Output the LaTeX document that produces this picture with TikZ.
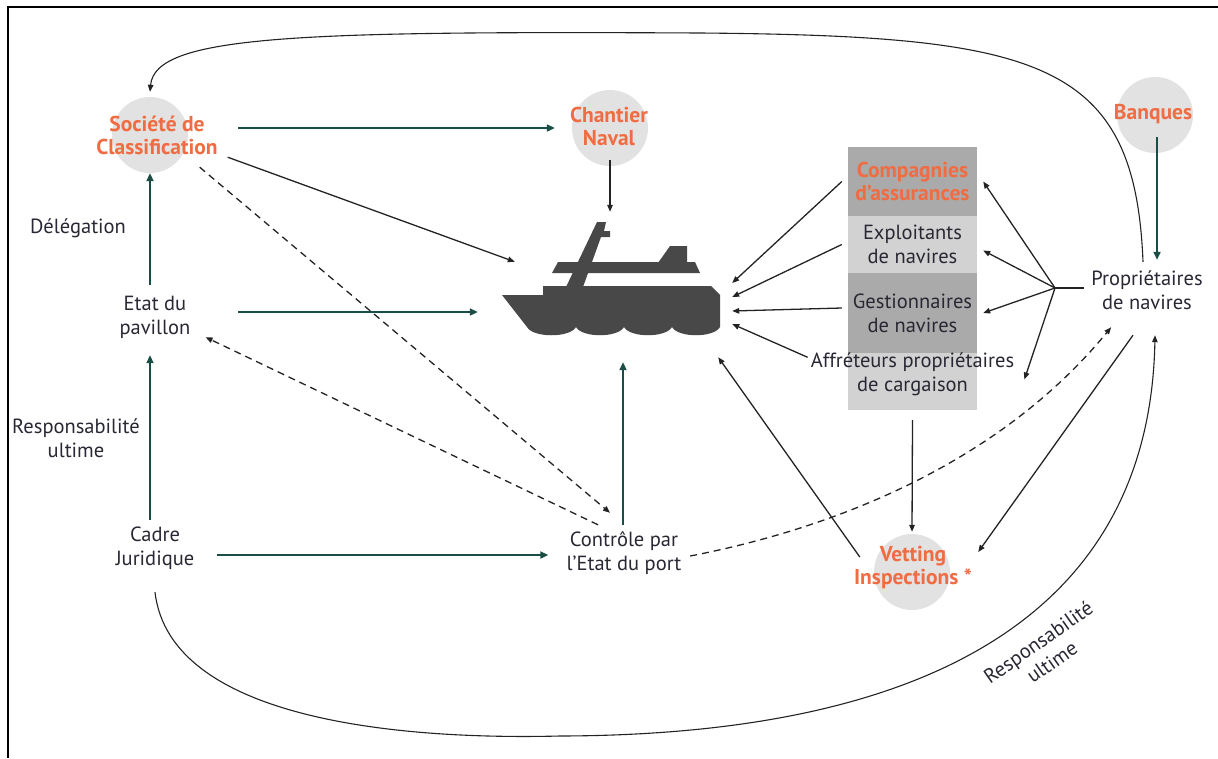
\documentclass[tikz,border=0pt]{standalone}
\usepackage{fontspec}
\setmainfont{PT Sans}
\usetikzlibrary{arrows.meta}

\definecolor{txtgray}{RGB}{40,40,52}
\definecolor{orangeT}{RGB}{240,108,66}
\definecolor{bubblegray}{RGB}{226,226,226}
\definecolor{tealC}{RGB}{24,78,70}
\definecolor{linegray}{RGB}{35,35,35}
\definecolor{boxdarkC}{RGB}{170,170,170}
\definecolor{boxlightC}{RGB}{210,210,210}
\definecolor{shipC}{RGB}{72,72,72}

\tikzset{
	bubble/.style={circle, fill=bubblegray, minimum size=76pt, inner sep=0pt},
	orangetxt/.style={text=orangeT, font=\fontsize{21.5}{23}\selectfont\bfseries, align=center, inner sep=0pt},
	plaintxt/.style={text=txtgray, font=\fontsize{20.5}{24}\selectfont, align=center, inner sep=0pt, minimum height=48pt},
	boxdark/.style={fill=boxdarkC, minimum width=129pt, inner sep=0pt},
	boxlight/.style={fill=boxlightC, minimum width=129pt, inner sep=0pt},
	tealarrow/.style={draw=tealC, line width=2.6pt, -{Triangle[length=8pt,width=7pt]}},
	thinarrow/.style={draw=linegray, line width=1.3pt, -{Triangle[length=7pt,width=5.5pt]}},
	dasharrow/.style={thinarrow, dash pattern=on 7pt off 5pt},
}

\begin{document}
\begin{tikzpicture}[x=1pt, y=-1pt]
	\useasboundingbox (0,0) rectangle (1218,758);
	\draw[line width=2pt] (8,758) -- (8,6.5) -- (1218,6.5);

	% the ship
	\node[minimum width=254pt, minimum height=150pt, inner sep=0pt] (ship) at (605,290) {};
	\fill[shipC] (502,295) -- (543,295) -- (543,286) -- (711,286) -- (720,295) -- (720,327)
		.. controls (714,338) and (678,338) .. (672,327)
		.. controls (666,338) and (630,338) .. (624,327)
		.. controls (618,338) and (582,338) .. (576,327)
		.. controls (570,338) and (533,338) .. (527,327) -- cycle;
	\fill[shipC] (552,273) -- (558,262) -- (695,262) -- (700,273) -- cycle;
	\fill[shipC] (658,263) -- (670,246) -- (687,246) -- (687,263) -- cycle;
	\fill[shipC] (597,222) -- (606,222) -- (604,231) -- (610,231) -- (610,237) -- (601,237) -- (583,287) -- (566,287) -- cycle;

	% actors
	\node[bubble] (socc) at (150,135) {};
	\node[orangetxt, minimum width=125pt, minimum height=48pt] (soc) at (157,135) {Société de\\Classification};
	\node[bubble] (chac) at (610,128) {};
	\node[orangetxt] (cha) at (609,126) {Chantier\\Naval};
	\node[bubble] (banc) at (1155,115) {};
	\node[orangetxt] (ban) at (1153,114) {Banques};
	\node[bubble] (vetc) at (912,572) {};
	\node[orangetxt] (vet) at (913,567) {Vetting\\Inspections *};

	\node[plaintxt] (deleg) at (78,228) {Délégation};
	\node[plaintxt, minimum width=70pt] (etat) at (155,317) {Etat du\\pavillon};
	\node[plaintxt] (resp) at (76,438) {Responsabilité\\ultime};
	\node[plaintxt, minimum width=70pt] (cadre) at (155,548) {Cadre\\Juridique};
	\node[plaintxt, minimum width=115pt] (ctrl) at (624,553) {Contrôle par\\l’Etat du port};
	\node[plaintxt, minimum width=105pt] (prop) at (1147,290) {Propriétaires\\de navires};
	\node[plaintxt, rotate=35] (resp2) at (1045,652) {Responsabilité\\ultime};

	\node[boxdark, minimum height=69pt, text=orangeT, font=\fontsize{21.5}{23}\selectfont\bfseries, align=center] (compa) at (912.5,181.5) {Compagnies\\d’assurances};
	\node[boxlight, minimum height=57pt, text=txtgray, font=\fontsize{20.5}{24}\selectfont, align=center] (exploit) at (912.5,244.5) {Exploitants\\de navires};
	\node[boxdark, minimum height=80pt, text=txtgray, font=\fontsize{20.5}{24}\selectfont, align=center] (gestion) at (912.5,313) {Gestionnaires\\de navires};
	\node[boxlight, minimum height=57pt] (affret) at (912.5,381.5) {};
	\node[plaintxt, minimum width=200pt] (affrettxt) at (912.5,374.5) {Affréteurs propriétaires\\de cargaison};

	% regulation arrows
	\draw[tealarrow] ([shift={(18pt,7pt)}]soc.east) -- ([xshift=-17pt]chac.west);
	\draw[tealarrow] ([shift={(47pt,5pt)}]etat.east) -- ([yshift=-22pt]ship.west);
	\draw[tealarrow] ([shift={(-5pt,8pt)}]etat.north) -- (socc.south);
	\draw[tealarrow] ([shift={(-5pt,4pt)}]cadre.north) -- ([shift={(-5pt,-14pt)}]etat.south);
	\draw[tealarrow] ([shift={(23pt,-7pt)}]cadre.east) -- ([shift={(-18pt,-2pt)}]ctrl.west);
	\draw[tealarrow] ([shift={(-1pt,4pt)}]ctrl.north) -- ([shift={(18pt,3pt)}]ship.south);
	\draw[tealarrow] ([shift={(2pt,-22pt)}]banc.center) -- ([shift={(10pt,6pt)}]prop.north);

	% other links
	\draw[thinarrow] ([yshift=6pt]chac.south) -- ([shift={(5pt,3pt)}]ship.north);
	\draw[thinarrow] ([shift={(8pt,2pt)}]soc.south east) -- ([shift={(37pt,-47pt)}]ship.north west);
	\draw[dasharrow] ([shift={(-20pt,-8pt)}]soc.south east) -- ([shift={(-14pt,16pt)}]ctrl.north);
	\draw[dasharrow] ([shift={(-26pt,4pt)}]ctrl.north) -- ([shift={(15pt,4pt)}]etat.south east);
	\draw[dasharrow] ([shift={(8.5pt,-3pt)}]ctrl.east) .. controls +(160,-31) and +(-105,128) .. ([shift={(20pt,-13pt)}]prop.south west);

	\draw[thinarrow] ([xshift=-6pt]compa.west) -- ([yshift=7pt]ship.east);
	\draw[thinarrow] ([xshift=-6pt]exploit.west) -- ([yshift=-7pt]ship.east);
	\draw[thinarrow] ([shift={(-6pt,5pt)}]gestion.west) -- ([yshift=-21pt]ship.east);
	\draw[thinarrow] ([shift={(-3pt,-7pt)}]affrettxt.north west) -- ([yshift=-34pt]ship.east);

	\coordinate (fan) at (1055,288);
	\draw[linegray, line width=1.3pt] ([shift={(-7pt,2pt)}]prop.west) -- (fan);
	\draw[thinarrow] (fan) -- ([xshift=6pt]compa.east);
	\draw[thinarrow] (fan) -- ([shift={(6pt,-6pt)}]exploit.east);
	\draw[thinarrow] (fan) -- ([xshift=6pt]gestion.east);
	\draw[thinarrow] (fan) -- ([shift={(10pt,-5pt)}]affrettxt.east);

	\draw[thinarrow] ([shift={(-14pt,15pt)}]vetc.west) -- ([shift={(-14pt,8pt)}]ship.south east);
	\draw[thinarrow] ([yshift=-10pt]affret.south) -- ([yshift=2pt]vetc.north);
	\draw[thinarrow, {Triangle[length=7pt,width=5.5pt]}-] ([shift={(28pt,20pt)}]vetc.east) -- ([shift={(-14pt,-21pt)}]prop.south);

	% big loops
	\draw[thinarrow, line width=1.1pt] ([shift={(-4pt,4pt)}]prop.north) .. controls (1135,60) and (1040,36) .. (700,33)
		.. controls (300,31) and (155,35) .. ([yshift=5pt]socc.north);
	\draw[thinarrow, line width=1.1pt] ([yshift=-20pt]cadre.south) .. controls (170,720) and (400,740) .. (560,736)
		.. controls (950,735) and (1150,600) .. ([shift={(8pt,-21pt)}]prop.south);
\end{tikzpicture}
\end{document}
